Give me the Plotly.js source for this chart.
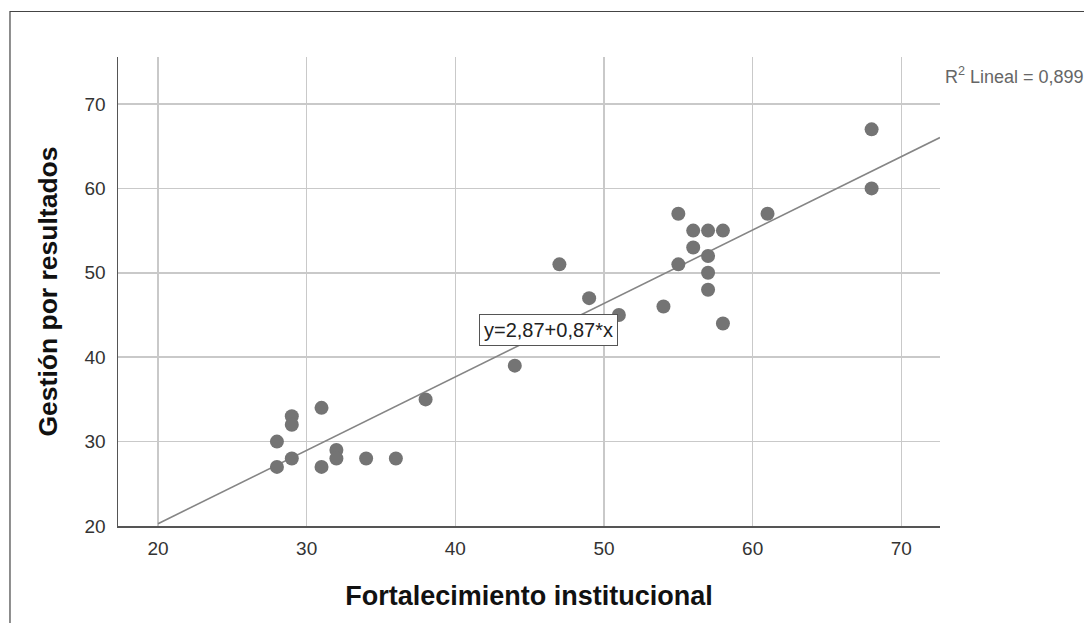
<!DOCTYPE html>
<html>
<head>
<meta charset="utf-8">
<script src="https://cdn.plot.ly/plotly-3.0.1.min.js"></script>
<style>
html,body{margin:0;padding:0;background:#fff;}
#chart{width:1084px;height:623px;}
</style>
</head>
<body>
<div id="chart"></div>
<script>
// Data
const fortalecimiento = [28, 28, 29, 29, 29, 31, 31, 32, 32, 34, 36, 38, 44, 47, 49, 51, 54, 55, 55, 56, 56, 57, 57, 57, 57, 58, 58, 61, 68, 68];
const gestion         = [30, 27, 33, 32, 28, 34, 27, 29, 28, 28, 28, 35, 39, 51, 47, 45, 46, 57, 51, 55, 53, 55, 52, 50, 48, 55, 44, 57, 67, 60];

// Linear fit reported in the chart
const intercept = 2.87;
const slope = 0.87;
const fitLabel = "y=2,87+0,87*x";
const r2Label = "R<sup>2</sup> Lineal = 0,899";

const xTicks = [20, 30, 40, 50, 60, 70];
const yTicks = [20, 30, 40, 50, 60, 70];
const xRange = [17.31, 72.6];
const yRange = [20, 75.57];

const fitX = [20, xRange[1]];
const fitY = fitX.map(v => intercept + slope * v);

const font = "Liberation Sans, Arial, sans-serif";

const traces = [
  {
    x: fitX, y: fitY, type: "scatter", mode: "lines",
    line: {color: "#858585", width: 1.6},
    hoverinfo: "skip", showlegend: false
  },
  {
    x: fortalecimiento, y: gestion, type: "scatter", mode: "markers",
    marker: {color: "#747474", size: 14, line: {width: 0}},
    cliponaxis: false, showlegend: false
  }
];

const layout = {
  width: 1084, height: 623,
  margin: {l: 118, r: 144, t: 57, b: 97, pad: 0},
  paper_bgcolor: "#ffffff", plot_bgcolor: "#ffffff",
  font: {family: font, color: "#333333", size: 19},
  showlegend: false,
  xaxis: {
    range: xRange, tickvals: xTicks, ticktext: xTicks.map(String),
    showgrid: true, gridcolor: "#c9c9c9", gridwidth: 1.5,
    zeroline: false, showline: true, linecolor: "#555555", linewidth: 1.5,
    ticks: "", ticklabelstandoff: 5,
    tickfont: {family: font, size: 19, color: "#333333"},
    title: {text: "Fortalecimiento institucional", font: {family: font, size: 27, color: "#111111", weight: "bold"}, standoff: 28}
  },
  yaxis: {
    range: yRange, tickvals: yTicks, ticktext: yTicks.map(String),
    showgrid: true, gridcolor: "#c9c9c9", gridwidth: 1.5,
    zeroline: false, showline: true, linecolor: "#555555", linewidth: 1.5,
    ticks: "", ticklabelstandoff: 7,
    tickfont: {family: font, size: 19, color: "#333333"},
    title: {text: "Gestión por resultados", font: {family: font, size: 26.5, color: "#111111", weight: "bold"}, standoff: 19}
  },
  annotations: [
    {
      x: 46.26, y: 43.2, xref: "x", yref: "y",
      text: fitLabel, showarrow: false,
      font: {family: font, size: 20, color: "#222222"},
      bgcolor: "#ffffff", bordercolor: "#555555", borderwidth: 1, borderpad: 4
    },
    {
      x: 1.0036, y: 0.9616, xref: "paper", yref: "paper",
      xanchor: "left", yanchor: "middle",
      text: r2Label, showarrow: false,
      font: {family: font, size: 18, color: "#666666"}
    }
  ],
  shapes: [
    {
      type: "rect", xref: "paper", yref: "paper",
      x0: -0.1314, x1: 1.2, y0: -0.25, y1: 1.097,
      line: {color: "#444444", width: 1.2}, fillcolor: "rgba(0,0,0,0)", layer: "below"
    }
  ]
};

Plotly.newPlot("chart", traces, layout, {displayModeBar: false, staticPlot: true});
</script>
</body>
</html>
